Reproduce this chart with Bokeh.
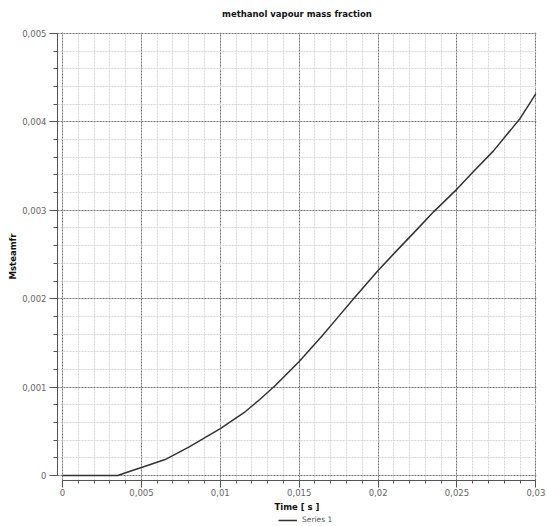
from bokeh.plotting import figure
from bokeh.layouts import column
from bokeh.models import Range1d, FixedTicker, Legend
from bokeh.embed import file_html
from bokeh.resources import INLINE

# data
time_s = [0, 0.001, 0.002, 0.003, 0.0035, 0.004, 0.005, 0.0065, 0.008, 0.01,
          0.0115, 0.0125, 0.0135, 0.015, 0.0165, 0.0175, 0.0185, 0.02, 0.021,
          0.0225, 0.0235, 0.025, 0.026, 0.0273, 0.0285, 0.029, 0.0295, 0.03]
msteamfr = [0, 0, 0, 0, 0, 0.00003, 0.00009, 0.00018, 0.00032, 0.00053,
            0.00071, 0.00086, 0.00102, 0.00129, 0.00159, 0.0018, 0.00201,
            0.00232, 0.00251, 0.00279, 0.00298, 0.00324, 0.00343, 0.00367,
            0.00393, 0.00404, 0.00418, 0.00432]
series_name = "Series 1"

x_ticks = [0, 0.005, 0.01, 0.015, 0.02, 0.025, 0.03]
x_tick_labels = ["0", "0,005", "0,01", "0,015", "0,02", "0,025", "0,03"]
y_ticks = [0, 0.001, 0.002, 0.003, 0.004, 0.005]
y_tick_labels = ["0", "0,001", "0,002", "0,003", "0,004", "0,005"]
x_minor = [i * 0.001 for i in range(31)]
y_minor = [i * 0.0002 for i in range(26)]

FONT = "DejaVu Sans"
LINE_COLOR = "#333333"

p = figure(width=547, height=514, output_backend="svg", toolbar_location=None,
           x_range=Range1d(-0.00032, 0.03004), y_range=Range1d(-0.000057, 0.005012),
           min_border_left=57, min_border_right=11, min_border_top=32, min_border_bottom=33,
           title="methanol vapour mass fraction\n")
p.outline_line_color = None
p.background_fill_color = "white"

p.title.align = "center"
p.title.text_font = FONT
p.title.text_font_size = "8.5px"
p.title.text_font_style = "bold"
p.title.text_color = "#111111"
p.title.standoff = 8

p.line(time_s, msteamfr, line_color=LINE_COLOR, line_width=1.5)

for ax in (p.xaxis[0], p.yaxis[0]):
    ax.axis_line_color = "#555555"
    ax.major_tick_line_color = "#555555"
    ax.minor_tick_line_color = "#555555"
    ax.major_tick_in = 0
    ax.minor_tick_in = 0
    ax.major_label_text_font = FONT
    ax.major_label_text_font_size = "8.5px"
    ax.major_label_text_color = "#666666"
    ax.axis_label_text_font = FONT
    ax.axis_label_text_font_size = "8.5px"
    ax.axis_label_text_font_style = "bold"
    ax.axis_label_text_color = "#111111"

xa = p.xaxis[0]
xa.ticker = FixedTicker(ticks=x_ticks, minor_ticks=x_minor)
xa.major_label_overrides = dict(zip(x_ticks, x_tick_labels))
xa.bounds = (0, 0.03)
xa.major_tick_out = 7
xa.minor_tick_out = 3
xa.major_label_standoff = 1
xa.axis_label = "Time [ s ]"
xa.axis_label_standoff = 3

ya = p.yaxis[0]
ya.ticker = FixedTicker(ticks=y_ticks, minor_ticks=y_minor)
ya.major_label_overrides = dict(zip(y_ticks, y_tick_labels))
ya.bounds = (0, 0.005)
ya.major_tick_out = 8
ya.minor_tick_out = 4
ya.major_label_standoff = 3
ya.axis_label = "Msteamfr"
ya.axis_label_standoff = 1

xg = p.xgrid[0]
xg.ticker = FixedTicker(ticks=x_ticks, minor_ticks=x_minor)
xg.bounds = (0, 0.03)
xg.grid_line_color = "#777777"
xg.grid_line_dash = "2 1"
xg.minor_grid_line_color = "#d6d6d6"
xg.minor_grid_line_dash = "2 1"

yg = p.ygrid[0]
yg.ticker = FixedTicker(ticks=y_ticks, minor_ticks=y_minor)
yg.bounds = (0, 0.005)
yg.grid_line_color = "#777777"
yg.grid_line_dash = "2 1"
yg.minor_grid_line_color = "#d6d6d6"
yg.minor_grid_line_dash = "2 1"

# legend strip below the chart (the series is out of this strip's view; only its legend shows)
p2 = figure(width=547, height=12, output_backend="svg", toolbar_location=None,
            x_range=Range1d(0, 1), y_range=Range1d(1, 2),
            x_axis_type=None, y_axis_type=None,
            min_border_left=0, min_border_right=0, min_border_top=0, min_border_bottom=0)
p2.outline_line_color = None
p2.grid.visible = False
legend_line = p2.line(time_s, msteamfr, line_color=LINE_COLOR, line_width=1.5)
legend = Legend(items=[(series_name, [legend_line])], location=(221, 2), orientation="horizontal",
                label_text_font=FONT, label_text_font_size="7.5px", label_text_color="#555555",
                glyph_width=19, glyph_height=8, label_height=8, label_standoff=5,
                padding=0, margin=0, spacing=0, border_line_alpha=0, background_fill_alpha=0)
p2.add_layout(legend, "center")

open("out.html", "w").write(file_html(column(p, p2, spacing=0), INLINE))
